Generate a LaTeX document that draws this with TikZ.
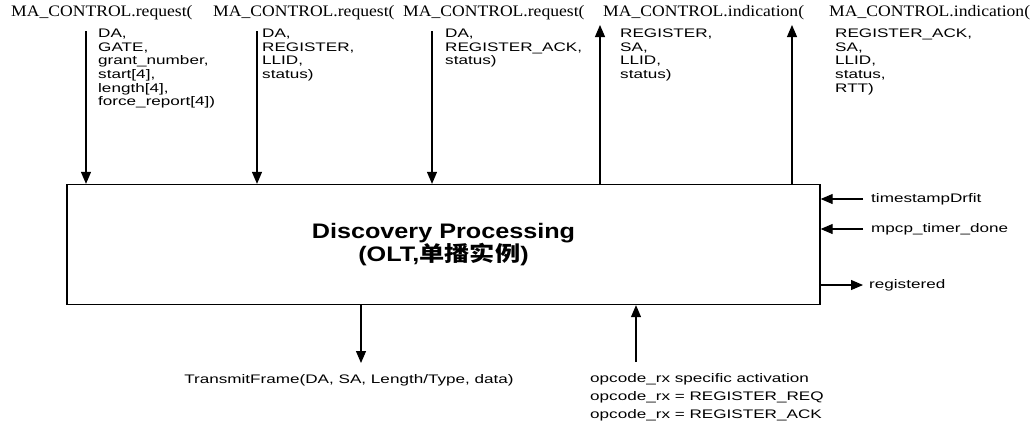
\documentclass[tikz,border=0pt]{standalone}
\usepackage{fontspec}
\usetikzlibrary{positioning,arrows.meta,calc}
\newfontfamily\hdrfont[FakeStretch=1.1]{Liberation Serif}
\newfontfamily\lblfont[FakeStretch=1.38]{Liberation Sans}
\newfontfamily\ttlfont[FakeStretch=1.2]{Liberation Sans}
\newfontfamily\cjkfont[FakeStretch=1.2]{Noto Sans CJK SC}
\tikzset{
  dpbox/.style ={rectangle, draw, line width=1.3pt, minimum width=753pt,
                 minimum height=120pt, align=center, inner sep=0pt,
                 font=\ttlfont\bfseries\fontsize{21}{23}\selectfont},
  hdr/.style   ={anchor=base west, inner sep=0pt,
                 font=\hdrfont\fontsize{16}{18}\selectfont},
  prm/.style   ={anchor=north west, inner sep=0pt, align=left,
                 font=\lblfont\fontsize{12.4}{13.6}\selectfont},
  lbl/.style   ={anchor=west, inner sep=0pt,
                 font=\lblfont\fontsize{12.4}{14}\selectfont},
  fl/.style    ={-{Triangle[length=12pt,width=10pt]}, line width=1.1pt}
}
\begin{document}
\begin{tikzpicture}[x=1pt, y=-1pt]
  \useasboundingbox (0,0) rectangle (1030,432);

  \node[dpbox] (dp) at (443.5,244.5) {Discovery Processing\\(OLT,{\cjkfont 单播实例})};

  \node[hdr] (h1) at (11,16)  {MA\_CONTROL.request(};
  \node[hdr] (h2) at (213,16) {MA\_CONTROL.request(};
  \node[hdr] (h3) at (403,16) {MA\_CONTROL.request(};
  \node[hdr] (h4) at (603,16) {MA\_CONTROL.indication(};
  \node[hdr] (h5) at (829,16) {MA\_CONTROL.indication(};

  \node[prm] (p1) at (98,28)  {\strut DA,\\GATE,\\grant\_number,\\start[4],\\length[4],\\force\_report[4])};
  \node[prm] (p2) at (262,28) {\strut DA,\\REGISTER,\\LLID,\\status)};
  \node[prm] (p3) at (445,28) {\strut DA,\\REGISTER\_ACK,\\status)};
  \node[prm] (p4) at (620,28) {\strut REGISTER,\\SA,\\LLID,\\status)};
  \node[prm] (p5) at (835,28) {\strut REGISTER\_ACK,\\SA,\\LLID,\\status,\\RTT)};

  \coordinate (a1) at (86,31);
  \coordinate (a2) at (257,31);
  \coordinate (a3) at (432,31);
  \coordinate (a4) at (600,25);
  \coordinate (a5) at (792,25);
  \draw[fl] (a1) -- (a1 |- dp.north);
  \draw[fl] (a2) -- (a2 |- dp.north);
  \draw[fl] (a3) -- (a3 |- dp.north);
  \draw[fl] (a4 |- dp.north) -- (a4);
  \draw[fl] (a5 |- dp.north) -- (a5);

  \node[lbl] (ts) at (871,199) {timestampDrfit};
  \node[lbl] (mt) at (871,229) {mpcp\_timer\_done};
  \node[lbl] (rg) at (869,285) {registered};
  \draw[fl] ([xshift=-8pt]ts.west) -- (ts.west -| dp.east);
  \draw[fl] ([xshift=-8pt]mt.west) -- (mt.west -| dp.east);
  \draw[fl] (rg.west -| dp.east) -- ([xshift=-6pt]rg.west);

  \node[lbl,anchor=center] (tf) at (349,380) {TransmitFrame(DA, SA, Length/Type, data)};
  \node[prm,font=\lblfont\fontsize{12.4}{18}\selectfont] (op) at (590,370)
    {\strut opcode\_rx specific activation\\opcode\_rx = REGISTER\_REQ\\opcode\_rx = REGISTER\_ACK};
  \coordinate (b1) at (361,363);
  \coordinate (b2) at (636,362);
  \draw[fl] (b1 |- dp.south) -- (b1);
  \draw[fl] (b2) -- (b2 |- dp.south);
\end{tikzpicture}
\end{document}
